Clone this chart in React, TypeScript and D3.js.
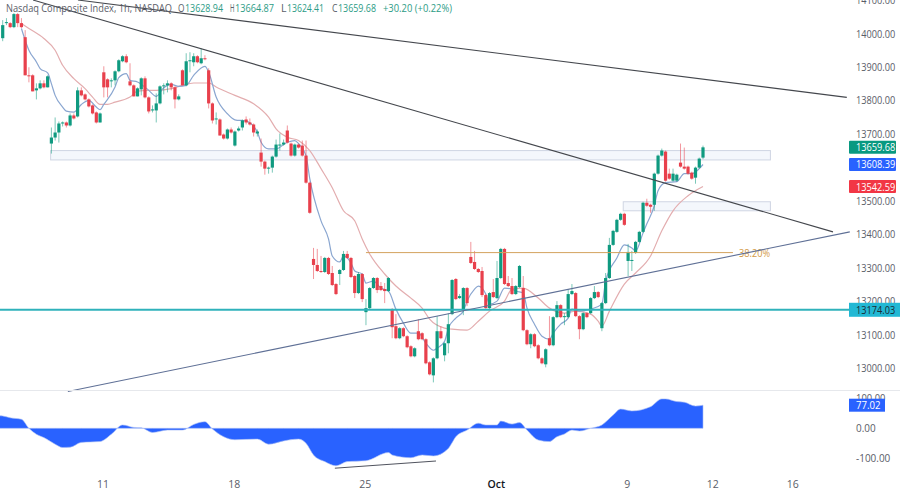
import * as d3 from "d3";

const width = 900,
  height = 492;

// hourly candles
const opens = [
  13986,14031,14031,14019,14058,14031,13989,13875,13875,13830,
  13836,13851,13839,13671,13689,13704,13731,13734,13725,13755,
  13752,13830,13818,13803,13785,13764,13734,13884,13863,13857,
  13860,13887,13917,13932,13857,13845,13812,13833,13866,13809,
  13770,13770,13791,13842,13845,13851,13839,13803,13890,13845,
  13917,13914,13932,13911,13926,13890,13791,13743,13743,13698,
  13686,13713,13665,13710,13719,13743,13734,13728,13701,13644,
  13617,13596,13599,13632,13665,13668,13710,13671,13635,13668,
  13665,13635,13554,13326,13308,13290,13287,13329,13284,13251,
  13281,13293,13341,13329,13275,13224,13281,13167,13179,13239,
  13269,13245,13236,13230,13176,13125,13089,13119,13095,13065,
  13035,13110,13104,13086,13017,12978,13029,13110,13038,13074,
  13161,13266,13209,13176,13239,13332,13317,13296,13290,13218,
  13179,13227,13209,13269,13356,13254,13245,13221,13242,13239,
  13113,13071,13101,13068,13029,13011,13089,13068,13152,13188,
  13152,13152,13221,13224,13155,13116,13164,13164,13209,13227,
  13119,13194,13269,13368,13407,13443,13461,13320,13320,13344,
  13377,13407,13494,13488,13488,13581,13635,13647,13581,13560,
  13560,13614,13602,13602,13584,13569,13599,13628.94,
];
const highs = [
  14040,14046,14034,14061,14061,14046,14010,13899,13878,13851,
  13860,13860,13875,13719,13749,13737,13737,13737,13761,13761,
  13839,13839,13821,13806,13788,13767,13764,13902,13866,13866,
  13890,13923,13935,13938,13911,13848,13839,13869,13872,13812,
  13785,13821,13845,13851,13860,13854,13842,13818,13893,13941,
  13944,13941,13935,13956,13935,13896,13794,13764,13746,13701,
  13716,13719,13710,13722,13743,13752,13746,13731,13713,13686,
  13620,13602,13635,13683,13701,13683,13725,13674,13671,13671,
  13680,13680,13557,13359,13356,13335,13332,13332,13305,13254,
  13296,13350,13350,13332,13278,13287,13284,13206,13242,13272,
  13272,13257,13254,13272,13179,13161,13122,13122,13098,13068,
  13062,13146,13107,13089,13020,13032,13155,13125,13077,13164,
  13266,13269,13221,13242,13242,13377,13350,13299,13302,13221,
  13227,13266,13320,13359,13359,13275,13269,13248,13308,13275,
  13116,13104,13104,13071,13032,13059,13155,13155,13200,13191,
  13164,13236,13251,13227,13158,13167,13167,13212,13245,13230,
  13197,13284,13389,13413,13446,13464,13464,13371,13350,13380,
  13410,13497,13506,13491,13584,13638,13656,13650,13596,13596,
  13581,13671,13659,13605,13587,13602,13629,13664.87,
];
const lows = [
  13977,14025,14016,14016,14019,14016,13875,13854,13827,13803,
  13833,13836,13839,13641,13680,13674,13722,13719,13722,13743,
  13749,13812,13800,13779,13758,13731,13734,13809,13809,13839,
  13845,13884,13914,13911,13842,13812,13812,13815,13806,13761,
  13764,13734,13788,13818,13824,13830,13776,13800,13845,13842,
  13884,13902,13911,13908,13920,13776,13731,13728,13695,13683,
  13683,13701,13662,13707,13710,13728,13725,13692,13692,13602,
  13578,13581,13584,13629,13650,13665,13671,13632,13632,13656,
  13632,13551,13461,13266,13287,13284,13284,13278,13245,13218,
  13248,13290,13326,13269,13209,13221,13197,13128,13176,13236,
  13224,13230,13194,13227,13089,13086,13086,13092,13059,13032,
  13032,13083,13083,13011,12978,12957,13026,13086,13020,13044,
  13158,13203,13206,13158,13185,13311,13293,13284,13212,13176,
  13176,13209,13206,13266,13248,13242,13218,13218,13239,13110,
  13068,13059,13062,13026,13011,13002,13065,13065,13149,13149,
  13128,13149,13218,13152,13086,13113,13149,13161,13206,13209,
  13110,13191,13266,13365,13404,13440,13425,13275,13290,13341,
  13374,13404,13482,13464,13470,13578,13632,13557,13563,13557,
  13557,13599,13593,13578,13563,13551,13596,13624.41,
];
const closes = [
  14025,14034,14019,14058,14031,14019,13875,13872,13827,13836,
  13851,13839,13872,13689,13704,13731,13734,13725,13755,13746,
  13830,13815,13803,13782,13761,13734,13761,13839,13839,13860,
  13887,13920,13932,13914,13845,13812,13836,13866,13809,13767,
  13773,13791,13842,13845,13851,13839,13803,13812,13845,13917,
  13920,13932,13914,13926,13923,13791,13740,13746,13695,13686,
  13713,13704,13707,13716,13740,13734,13728,13704,13707,13617,
  13596,13599,13632,13668,13668,13674,13674,13635,13668,13659,
  13635,13554,13464,13308,13290,13287,13329,13281,13248,13221,
  13293,13341,13329,13272,13224,13281,13206,13179,13239,13269,
  13233,13233,13230,13269,13122,13089,13119,13095,13062,13035,
  13059,13086,13086,13014,12981,13029,13110,13089,13074,13131,
  13263,13206,13215,13239,13194,13314,13296,13287,13218,13179,
  13224,13212,13269,13356,13251,13245,13221,13245,13305,13113,
  13071,13101,13065,13029,13014,13056,13068,13152,13188,13152,
  13155,13221,13230,13155,13116,13164,13152,13209,13227,13212,
  13194,13269,13368,13410,13443,13461,13428,13347,13323,13377,
  13407,13494,13485,13482,13581,13635,13650,13560,13566,13581,
  13578,13602,13596,13581,13566,13599,13626,13659.68,
];

// fast and slow averages, [bar, value]
const fastMa: [number, number][] = [
  [5,14015],[6,13980],[7,13950],[9,13915],[10,13895],[12,13882],[13,13850],[14,13815],[16,13780],[17,13768],
  [19,13765],[21,13788],[23,13800],[25,13780],[26,13772],[27,13788],[30,13840],[31,13868],[33,13880],[34,13860],
  [36,13855],[39,13830],[41,13812],[43,13838],[45,13848],[47,13842],[49,13845],[51,13875],[54,13902],[55,13885],
  [57,13810],[60,13760],[62,13742],[65,13738],[68,13705],[69,13675],[71,13655],[73,13655],[76,13675],[78,13680],
  [79,13671],[81,13635],[82,13566],[85,13440],[87,13386],[88,13335],[90,13317],[91,13335],[93,13314],[94,13290],
  [96,13281],[97,13254],[99,13260],[101,13239],[103,13230],[105,13176],[107,13134],[109,13104],[111,13104],[113,13074],
  [115,13053],[116,13059],[118,13080],[119,13119],[121,13149],[123,13170],[124,13200],[126,13236],[127,13245],[129,13221],
  [130,13191],[132,13200],[134,13239],[136,13236],[137,13230],[139,13224],[140,13179],[142,13131],[144,13095],[146,13086],
  [147,13104],[149,13131],[151,13149],[152,13176],[154,13170],[157,13176],[160,13191],[161,13260],[164,13329],[166,13368],
  [168,13359],[169,13350],[171,13404],[172,13431],[174,13485],[175,13530],[177,13554],[180,13557],[182,13581],[184,13581],
  [186,13596],[187,13608.39],
];
const slowMa: [number, number][] = [
  [5,14030],[7,14015],[11,13985],[14,13950],[16,13905],[19,13865],[22,13835],[24,13810],[26,13788],[28,13788],
  [30,13795],[34,13810],[36,13828],[39,13830],[41,13830],[45,13835],[48,13845],[51,13852],[55,13852],[57,13840],
  [62,13815],[67,13790],[71,13750],[73,13715],[76,13690],[79,13680],[82,13650],[85,13596],[88,13539],[91,13470],
  [94,13440],[96,13386],[98,13341],[102,13281],[105,13245],[109,13209],[112,13179],[114,13146],[118,13119],[120,13116],
  [124,13113],[127,13140],[130,13170],[134,13200],[136,13236],[139,13239],[143,13209],[146,13179],[150,13164],[153,13170],
  [157,13161],[159,13140],[160,13125],[162,13170],[166,13251],[169,13284],[173,13335],[176,13410],[179,13470],[183,13515],
  [187,13542.59],
];

// oscillator in the lower pane, [bar, value]
const oscillator: [number, number][] = [
  [-1,42],[0,41],[2,35],[5,30],[7,0],[9,-20],[11,-31],[14,-53],[16,-64],[18,-63],[21,-47],[26,-44],[29,-20],[32,11],[35,3],[37,2],
  [40,-14],[44,-6],[48,-6],[51,13],[54,22],[56,-2],[59,-28],[62,-38],[68,-36],[71,-53],[75,-42],[79,-36],[81,-50],[83,-89],
  [86,-111],[89,-125],[92,-111],[97,-108],[103,-81],[104,-89],[109,-98],[112,-89],[115,-92],[119,-67],[120,-48],[121,-28],
  [124,-6],[127,17],[129,11],[132,11],[133,24],[136,14],[138,19],[140,-6],[143,-39],[146,-44],[148,-28],[150,-19],[152,-6],
  [154,-9],[157,0],[160,11],[163,44],[165,64],[168,58],[173,72],[176,98],[177,98],[180,89],[182,87],[185,74],[187,77.02],
];

const priceTicks = [14100, 14000, 13900, 13800, 13700, 13500, 13400, 13300, 13200, 13100, 13000];
const oscTicks = [100, 0, -100];
const timeTicks: [number, string][] = [
  [26.8, "11"], [61.8, "18"], [96.8, "25"], [131.8, "Oct"], [166.8, "9"], [189.6, "12"], [211, "16"],
];

// header pieces: label, left edge, right edge
const header: [string, number, number, boolean][] = [
  ["Nasdaq Composite Index, 1h, NASDAQ", 6, 172, false],
  ["O", 178, 184.5, false],
  ["13628.94", 185, 223, true],
  ["H", 230, 234.5, false],
  ["13664.87", 235, 274, true],
  ["L", 281, 286.5, false],
  ["13624.41", 287, 324, true],
  ["C", 332, 337.5, false],
  ["13659.68", 338, 376, true],
  ["+30.20 (+0.22%)", 383, 452, true],
];

// drawings: [bar, value] end points
const upperTrend: [number, number][] = [[20.1, 14100], [225.4, 13809]];
const middleTrend: [number, number][] = [[8.1, 14100], [221.7, 13407]];
const risingTrend: [number, number][] = [[17.4, 12930], [226.2, 13407]];
const oscTrend: [number, number][] = [[88.7, -133], [115.7, -109]];
const zones = [
  { from: 12.8, to: 205, top: 13650, bottom: 13622 },
  { from: 165.7, to: 205, top: 13497, bottom: 13470 },
];
const fibLevel = 13345;
const fibBars = [97, 195];
const supportLevel = 13174.03;

const x = d3.scaleLinear([0, 187], [2.7, 703]);
const y = d3.scaleLinear([13000, 14000], [368, 33.5]);
const yOsc = d3.scaleLinear([-100, 100], [458.3, 398.3]);

const up = "#0f9a80",
  down = "#e8404c",
  axisText = "#5a5d68",
  font = "'Open Sans', sans-serif";

const maLine = d3
  .line<[number, number]>()
  .x((d) => x(d[0]))
  .y((d) => y(d[1]))
  .curve(d3.curveMonotoneX);
const oscArea = d3
  .area<[number, number]>()
  .x((d) => x(d[0]))
  .y0(yOsc(0))
  .y1((d) => yOsc(d[1]))
  .curve(d3.curveMonotoneX);

function Trend({ pts, scale, color, w }: { pts: [number, number][]; scale: any; color: string; w: number }) {
  return (
    <line
      x1={x(pts[0][0])}
      y1={scale(pts[0][1])}
      x2={x(pts[1][0])}
      y2={scale(pts[1][1])}
      stroke={color}
      strokeWidth={w}
    />
  );
}

// axis numbers share the reference's narrow width
function AxisLabel({ value, at, fill }: { value: number; at: number; fill: string }) {
  const label = value.toFixed(2);
  return (
    <text
      x={856}
      y={at + 4}
      fontSize={10.5}
      fill={fill}
      textLength={label.length * 4.9}
      lengthAdjust="spacingAndGlyphs"
    >
      {label}
    </text>
  );
}

function PriceTag({ value, color }: { value: number; color: string }) {
  return (
    <g>
      <rect x={849} y={y(value) - 6.5} width={47} height={13} fill={color} rx={1} />
      <AxisLabel value={value} at={y(value)} fill="#fff" />
    </g>
  );
}

export default function App() {
  return (
    <svg
      width={width}
      height={height}
      viewBox={`0 0 ${width} ${height}`}
      style={{ position: "fixed", left: 0, top: 0, background: "#fff" }}
      fontFamily={font}
    >
      {/* zones */}
      {zones.map((z) => (
        <rect
          key={z.top}
          x={x(z.from)}
          y={y(z.top)}
          width={x(z.to) - x(z.from)}
          height={y(z.bottom) - y(z.top)}
          fill="#f4f7fc"
          stroke="#cfd5e3"
          strokeWidth={1}
        />
      ))}

      {/* averages */}
      <path d={maLine(slowMa)!} fill="none" stroke="#e3adaf" strokeWidth={1.2} />
      <path d={maLine(fastMa)!} fill="none" stroke="#8aa6d0" strokeWidth={1.2} />

      {/* candles */}
      {closes.map((c, i) => {
        const o = opens[i];
        const color = c >= o ? up : down;
        const top = y(Math.max(o, c));
        const bottom = y(Math.min(o, c));
        return (
          <g key={i}>
            <line x1={x(i)} x2={x(i)} y1={y(highs[i])} y2={y(lows[i])} stroke={color} strokeOpacity={0.55} />
            <rect x={x(i) - 1.6} y={top} width={3.2} height={Math.max(bottom - top, 1)} fill={color} />
          </g>
        );
      })}

      {/* drawings */}
      <line x1={x(fibBars[0])} x2={x(fibBars[1])} y1={y(fibLevel)} y2={y(fibLevel)} stroke="#d3a35e" strokeWidth={1} />
      <text x={739} y={y(fibLevel) + 4} fontSize={10.5} fill="#d39a45" textLength={31} lengthAdjust="spacingAndGlyphs">
        38.20%
      </text>
      <line x1={0} x2={width} y1={y(supportLevel)} y2={y(supportLevel)} stroke="#2fb2bb" strokeWidth={2} />
      <Trend pts={upperTrend} scale={y} color="#44474d" w={1.1} />
      <Trend pts={middleTrend} scale={y} color="#44474d" w={1.1} />
      <Trend pts={risingTrend} scale={y} color="#5f7096" w={1.1} />

      {/* title */}
      {header.map(([label, left, right, coloured]) => (
        <text
          key={label}
          x={left}
          y={12}
          fontSize={11}
          fill={coloured ? "#2d9c86" : "#5a5d68"}
          textLength={right - left}
          lengthAdjust="spacingAndGlyphs"
        >
          {label}
        </text>
      ))}

      {/* price scale */}
      {priceTicks.map((t) => (
        <AxisLabel key={t} value={t} at={y(t)} fill={axisText} />
      ))}
      <PriceTag value={13659.68} color="#089981" />
      <PriceTag value={13608.39} color="#2962ff" />
      <PriceTag value={13542.59} color="#f23645" />
      <rect x={849} y={y(supportLevel) - 7} width={51} height={14} fill="#22b8d4" />
      <AxisLabel value={supportLevel} at={y(supportLevel)} fill="#1c2a33" />

      {/* lower pane */}
      <line x1={0} x2={width} y1={390.5} y2={390.5} stroke="#e6e8ec" />
      <path d={oscArea(oscillator)!} fill="#2962ff" stroke="#a9bdf5" strokeWidth={0.6} />
      <Trend pts={oscTrend} scale={yOsc} color="#50535e" w={1} />
      {oscTicks.map((t) => (
        <AxisLabel key={t} value={t} at={yOsc(t)} fill={axisText} />
      ))}
      <rect x={849} y={yOsc(77.02) - 6.5} width={36} height={13} fill="#2962ff" />
      <AxisLabel value={77.02} at={yOsc(77.02)} fill="#fff" />

      {/* time scale */}
      {timeTicks.map(([bar, label]) => (
        <text
          key={label}
          x={x(bar)}
          y={488}
          fontSize={10.5}
          textAnchor="middle"
          fill={label === "Oct" ? "#131722" : axisText}
          fontWeight={label === "Oct" ? 600 : 400}
        >
          {label}
        </text>
      ))}
    </svg>
  );
}
